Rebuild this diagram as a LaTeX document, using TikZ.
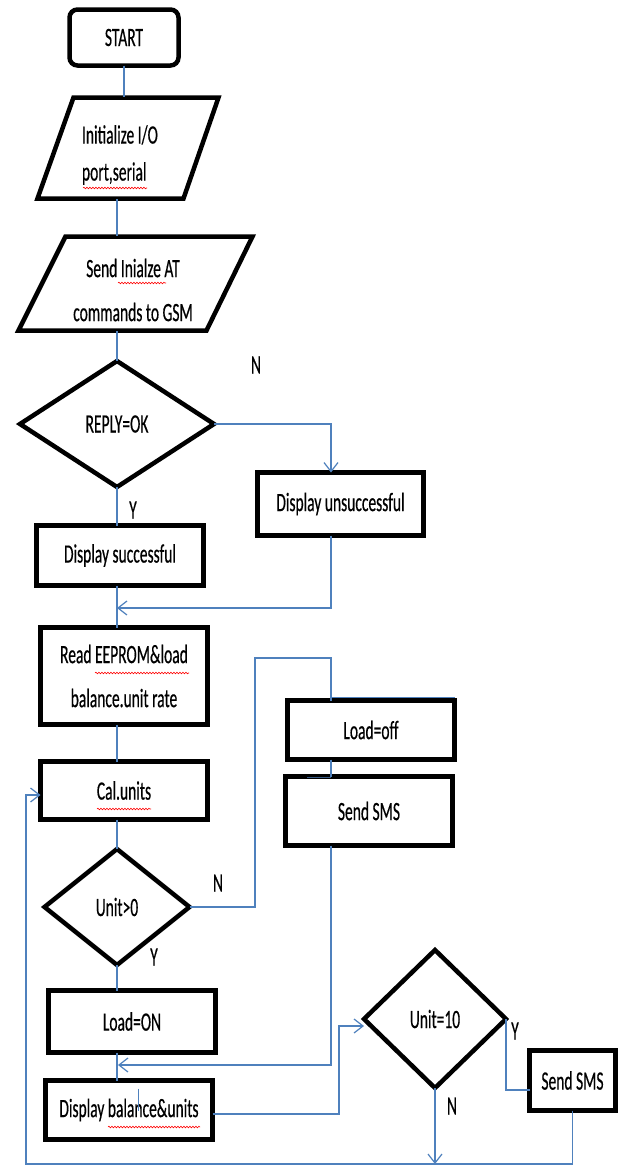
\documentclass[tikz,border=0pt]{standalone}
\usepackage{fontspec}
\usepackage{graphicx}
\setmainfont{Carlito}[FakeStretch=0.585,FakeBold=0.4]
\usetikzlibrary{shapes.geometric,arrows.meta,decorations.pathmorphing}
\definecolor{conn}{RGB}{79,129,189}
\begin{document}
\begin{tikzpicture}[x=1pt,y=-1pt,
  every node/.style={font=\fontsize{26.5}{30}\selectfont, inner sep=0pt, outer sep=0pt},
  box/.style={draw=black, line width=4.5pt, rectangle, minimum width=167pt},
  dia/.style={draw=black, line width=4.5pt, diamond, aspect=1},
  para/.style={draw=black, line width=4.5pt, line join=miter},
  flow/.style={draw=conn, line width=1.2pt},
  arr/.style={flow, -{Straight Barb[length=9pt,width=14pt,line width=1.2pt]}},
  lbl/.style={font=\fontsize{26.5}{30}\selectfont},
  squig/.style={draw=red, line width=0.6pt, decorate, decoration={snake, amplitude=0.8pt, segment length=3pt}}
]
\useasboundingbox (0,0) rectangle (625,1167);
\fill[white] (0,0) rectangle (625,1167);

% ---- shapes ----
\node[box, rounded corners=8pt, minimum width=109pt, minimum height=56pt] (start) at (124,37.5) {START};

\draw[para] (73.5,97.5) -- (218.5,97.5) -- (183.5,198.5) -- (37.5,198.5) -- cycle;
\node[align=left, anchor=west, font=\fontsize{26.5}{37}\selectfont] (init) at (82,155) {Initialize I/O\\port,serial};
\coordinate (initN) at (124,97);
\coordinate (initS) at (117,199);

\draw[para] (65.5,236.5) -- (252.5,236.5) -- (206.5,330.5) -- (18.5,330.5) -- cycle;
\node[align=center, font=\fontsize{26.5}{44}\selectfont] (send) at (133,290) {Send Inialze AT\\commands to GSM};
\coordinate (sendN) at (117,236);
\coordinate (sendS) at (117,331);

\node[dia, minimum width=194pt, minimum height=126pt] (reply) at (117,424) {REPLY=OK};
\node[box, minimum height=60pt] (succ) at (120,555.5) {Display successful};
\node[box, minimum width=166pt, minimum height=63pt] (unsucc) at (340.5,504) {Display unsuccessful};
\node[box, minimum height=97pt, align=center, font=\fontsize{26.5}{44}\selectfont] (read) at (124,676) {Read EEPROM\&load\\balance.unit rate};
\node[box, minimum height=58pt] (cal) at (124,790.5) {Cal.units};
\node[dia, minimum width=145pt, minimum height=116pt] (unit0) at (117,907) {Unit>0};
\node[box, minimum height=59pt] (loadoff) at (371,730) {Load=off};
\node[box, minimum height=69pt] (sms1) at (369,811) {Send SMS};
\node[box, minimum height=62pt] (loadon) at (132,1021.5) {Load=ON};
\node[box, minimum height=59pt] (disp) at (129,1110) {Display balance\&units};
\node[dia, minimum width=142pt, minimum height=138pt] (unit10) at (435,1019) {Unit=10};
\node[box, minimum width=86pt, minimum height=60pt] (sms2) at (572.5,1080.5) {Send SMS};

% ---- helper coordinates ----
\coordinate (merge1) at (117,608);
\coordinate (bendA) at (255,658);
\coordinate (merge2) at (118,1065);
\coordinate (bendB) at (339,1026);
\coordinate (botN) at (435,1164);
\coordinate (loopL) at (26,1164);

% ---- connectors ----
\draw[flow] (start.south) -- (initN);
\draw[flow] (initS) -- (sendN);
\draw[flow] (sendS) -- (reply.north);
\draw[arr] (reply.east) -| ([xshift=-9.5pt]unsucc.north);
\draw[flow] (reply.south) -- (reply.south |- succ.north);
\draw[flow] (succ.south -| reply.south) -- (read.north -| reply.south);
\draw[arr] ([xshift=-9.5pt]unsucc.south) |- (merge1);
\draw[flow] (read.south -| reply.south) -- (cal.north -| reply.south);
\draw[flow] (cal.south -| reply.south) -- (unit0.north);
\draw[flow] (unit0.east) -| (bendA) -| ([xshift=-40pt]loadoff.north);
\draw[flow] ([xshift=-40pt]loadoff.south) -- ([xshift=-38pt]sms1.north);
\draw[arr] ([xshift=-38pt]sms1.south) |- (merge2);
\draw[flow] (unit0.south) -- (unit0.south |- loadon.north);
\draw[flow] (loadon.south -| unit0.south) -- (disp.north -| unit0.south);
\draw[arr] ([yshift=-4pt]disp.east) -| (bendB) -- (bendB -| unit10.west);
\draw[flow] (unit10.east) |- ([yshift=-9.5pt]sms2.west);
\draw[arr] (unit10.south) -- (botN);
\draw[arr] (sms2.south) |- (loopL) |- ([yshift=-4.5pt]cal.west);

% stray line fragments visible in the picture
\draw[flow] ([xshift=-40pt,yshift=3pt]loadoff.north) -- ([yshift=3pt]loadoff.north east);
\draw[flow, draw=conn!70!black, line width=1.6pt] ([xshift=-62pt,yshift=-1pt]sms1.north) -- ([xshift=-38pt,yshift=-1pt]sms1.north);
\draw[flow, line width=0.8pt] ([xshift=9pt,yshift=-8pt]disp.north) -- ([xshift=9pt,yshift=-30pt]disp.north);

% ---- labels ----
\node[lbl] (nReply) at (256,365) {N};
\node[lbl] (yReply) at (133,510) {Y};
\node[lbl] (nUnit0) at (218,883) {N};
\node[lbl] (yUnit0) at (154,957) {Y};
\node[lbl] (yUnit10) at (515,1031) {Y};
\node[lbl] (nUnit10) at (452,1106) {N};

% ---- spell-check underlines ----
\draw[squig] (83,188) -- (147,188);
\draw[squig] (118,283) -- (166,283);
\draw[squig] (95,673) -- (189,673);
\draw[squig] (97,809) -- (151,809);
\draw[squig] (108,1127) -- (200,1127);
\end{tikzpicture}
\end{document}
